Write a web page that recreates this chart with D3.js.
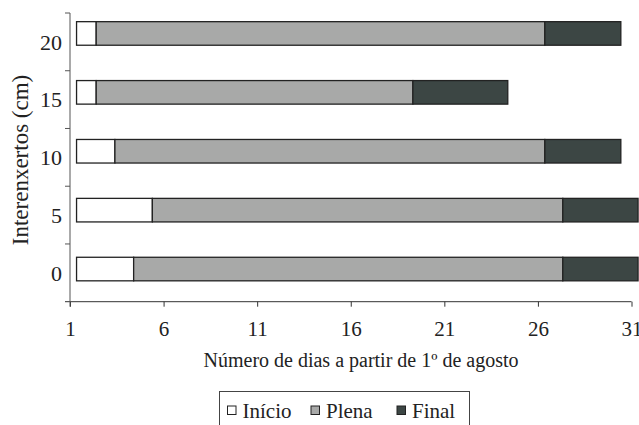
<!DOCTYPE html>
<html>
<head>
<meta charset="utf-8">
<script src="https://cdn.jsdelivr.net/npm/d3@7"></script>
<style>
  body { margin: 0; background: #fff; }
  svg text { font-family: "Liberation Serif", "Times New Roman", Times, "DejaVu Serif", serif; fill: #222; }
</style>
</head>
<body>
<div id="chart"></div>
<script>
// categories (top to bottom) and stage boundaries in days
const categories = ["20", "15", "10", "5", "0"];
const stages = ["Início", "Plena", "Final"];
const inicioStart = [1.35, 1.35, 1.35, 1.35, 1.35];
const plenaStart = [2.4, 2.4, 3.4, 5.4, 4.4];
const finalStart = [26.37, 19.32, 26.37, 27.33, 27.33];
const finalEnd = [30.43, 24.39, 30.43, 31.35, 31.35];
const xTicks = [1, 6, 11, 16, 21, 26, 31];
const colors = ["#ffffff", "#a8a9a8", "#3c4644"];

const serif = '"Liberation Serif", "Times New Roman", Times, serif';
const width = 639, height = 425;
const svg = d3.select("#chart").append("svg")
    .attr("width", width)
    .attr("height", height)
    .attr("font-family", serif);

const x = d3.scaleLinear().domain([1, 31]).range([70, 631.5]);
const axisTop = 13, axisBottom = 301.7;

// band for labels / tick separators
const yAxisScale = d3.scaleBand().domain(categories).range([axisTop, axisBottom]);
// bars sit slightly above band centres
const yBar = d3.scaleBand().domain(categories).range([4, 298.5]).paddingInner(0.6).paddingOuter(0.3);

// build stacked segments
const segments = [];
categories.forEach((c, i) => {
  const bounds = [inicioStart[i], plenaStart[i], finalStart[i], finalEnd[i]];
  stages.forEach((s, j) => {
    segments.push({cat: c, stage: j, x0: bounds[j], x1: bounds[j + 1]});
  });
});

svg.append("g").selectAll("rect")
    .data(segments)
  .join("rect")
    .attr("x", d => x(d.x0))
    .attr("y", d => yBar(d.cat))
    .attr("width", d => x(d.x1) - x(d.x0))
    .attr("height", yBar.bandwidth())
    .attr("fill", d => colors[d.stage])
    .attr("stroke", "#222")
    .attr("stroke-width", 1.3);

// x axis
const xAxisG = svg.append("g")
    .attr("transform", `translate(0,${axisBottom})`)
    .call(d3.axisBottom(x).tickValues(xTicks).tickSize(5).tickPadding(14).tickSizeOuter(0))
    .attr("font-family", serif);
xAxisG.select(".domain").attr("d", `M65,0H${x(31)}`).attr("stroke", "#333");
xAxisG.selectAll(".tick line").attr("stroke", "#333");
xAxisG.selectAll(".tick text")
    .style("font-family", serif)
    .style("font-size", "21px")
    .attr("fill", "#222");

// y axis: line with separator ticks between categories
const yAxisG = svg.append("g");
yAxisG.append("line")
    .attr("x1", x(1)).attr("x2", x(1))
    .attr("y1", axisTop).attr("y2", axisBottom + 5)
    .attr("stroke", "#555");
const sepYs = categories.map(c => yAxisScale(c));
yAxisG.selectAll(".sep")
    .data(sepYs)
  .join("line")
    .attr("class", "sep")
    .attr("x1", x(1) - 5).attr("x2", x(1))
    .attr("y1", d => d).attr("y2", d => d)
    .attr("stroke", "#555");
yAxisG.selectAll(".lab")
    .data(categories)
  .join("text")
    .attr("class", "lab")
    .attr("x", 62)
    .attr("y", d => yAxisScale(d) + yAxisScale.bandwidth() / 2)
    .attr("dy", "0.35em")
    .attr("text-anchor", "end")
    .style("font-size", "22px")
    .text(d => d);

// axis titles
svg.append("text")
    .attr("x", 361)
    .attr("y", 367)
    .attr("text-anchor", "middle")
    .style("font-size", "20px")
    .text("Número de dias a partir de 1º de agosto");

svg.append("text")
    .attr("transform", "translate(28,160) rotate(-90)")
    .attr("text-anchor", "middle")
    .style("font-size", "23px")
    .text("Interenxertos (cm)");

// legend
const legend = svg.append("g");
legend.append("rect")
    .attr("x", 219.5).attr("y", 391.5)
    .attr("width", 250).attr("height", 40)
    .attr("fill", "none")
    .attr("stroke", "#444");
const legendX = [227.5, 311, 397];
const item = legend.selectAll(".item")
    .data(stages)
  .join("g")
    .attr("class", "item")
    .attr("transform", (d, i) => `translate(${legendX[i]},0)`);
item.append("rect")
    .attr("x", 0).attr("y", 406)
    .attr("width", 8.5).attr("height", 8.5)
    .attr("fill", (d, i) => colors[i])
    .attr("stroke", "#222")
    .attr("stroke-width", 1);
item.append("text")
    .attr("x", 15)
    .attr("y", 418)
    .style("font-size", "21px")
    .text(d => d);
</script>
</body>
</html>
